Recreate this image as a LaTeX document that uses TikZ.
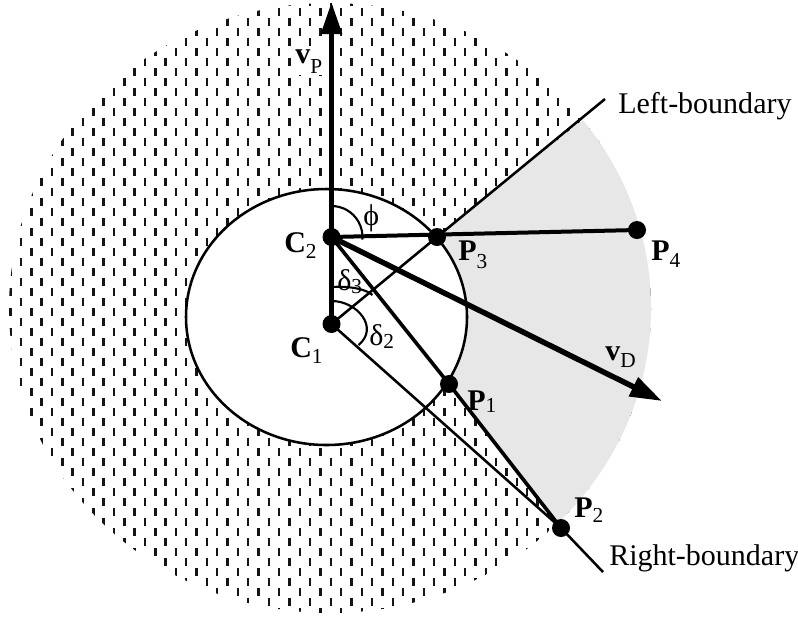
\documentclass[tikz,border=0pt]{standalone}
\usepackage{fontspec}
\setmainfont{Liberation Serif}
\usetikzlibrary{arrows.meta,calc}
\definecolor{sectorgray}{RGB}{231,231,231}
\definecolor{dashink}{RGB}{20,20,20}
\newcommand\vlab[3]{\textbf{#1}\raisebox{-#3}{\fontsize{16}{16}\selectfont #2}}
\newcommand\glab[3]{#1\raisebox{-#3}{\fontsize{16}{16}\selectfont #2}}
\begin{document}
\begin{tikzpicture}[x=0.75pt,y=-0.75pt,
  lbl/.style={inner sep=0pt, anchor=base west, font=\fontsize{22.5}{26}\selectfont},
  dashln/.style={draw=dashink, line width=1.8pt},
  thickln/.style={line width=4.1pt},
  midln/.style={line width=3pt},
  medln/.style={line width=2.7pt},
  thinln/.style={line width=1.9pt},
  arcln/.style={line width=1.6pt},
  dot/.style={circle, fill=black, inner sep=0pt, minimum size=13.5pt},
  bigtip/.style={-{Triangle[length=24pt,width=15pt]}}]
\useasboundingbox (0,0) rectangle (798,619);
% key points (pixel coordinates)
\coordinate (C1) at (331.5,324);
\coordinate (C2) at (331.5,237);
\coordinate (P1) at (449,384);
\coordinate (P2) at (561,528);
\coordinate (P3) at (437,237);
\coordinate (P4) at (637,230);
\coordinate (LB) at (605,99);
\coordinate (RB) at (603,572);
\coordinate (VP) at (331.5,2);
\coordinate (VD) at (662,401);
% patterned disc and grey sector
\begin{scope}
  \clip (330,308) ellipse [x radius=321, y radius=305];
  \foreach \i in {0,...,64}{
    \pgfmathsetmacro\xx{10.33*\i+0.35}
    \pgfmathsetmacro\yo{mod(\i,2)*10+1.7}
    \draw[dashln] \foreach \j in {0,...,31}{ (\xx,\yo+20*\j-4) -- ++(0,8) };
  }
  \fill[sectorgray] (P3) -- (758,-21) -- (900,-21) -- (900,819) -- (789,819) -- (P1) -- cycle;
\end{scope}
% inner ellipse
\fill[white] (326.5,317) ellipse [x radius=140.5, y radius=128];
\draw[thinln] (326.5,317) ellipse [x radius=140.5, y radius=128];
% boundary lines
\draw[thinln] (C1) -- (P3) -- (LB);
\draw[thinln] (C1) -- (P2) -- (RB);
% angle arcs
\draw[arcln] ($(C2)+(0,-31)$) arc [start angle=-90, end angle=5, radius=31];
\draw[arcln] ($(C1)+(0,-37)$) .. controls ($(C1)+(15,-38)$) and ($(C1)+(33,-36)$) .. ($(C1)+(41,-29)$);
\draw[arcln] ($(C1)+(0,-23)$) .. controls ($(C1)+(26,-23)$) and ($(C1)+(48,4)$) .. ($(C1)+(27,21)$);
% vectors and rays
\draw[medln] (C2) -- (P1) -- (P2);
\draw[midln] (C2) -- (P4);
\draw[thickln] (C1) -- (C2);
\draw[thickln, bigtip] (C2) -- (VP);
\draw[thickln, bigtip] (C2) -- (VD);
% dots
\foreach \p in {C1,C2,P1,P2,P3,P4}{ \node[dot] (d\p) at (\p) {}; }
% labels
\node[lbl, fill=white, inner sep=1.5pt] (lvP) at (293,63) {\vlab{v}{P}{7.5pt}};
\node[lbl] (lvD) at (605,360) {\vlab{v}{D}{5.3pt}};
\node[lbl] (lC2) at (284,252) {\vlab{C}{2}{4.5pt}};
\node[lbl] (lC1) at (290,357) {\vlab{C}{1}{4.5pt}};
\node[lbl] (lP1) at (467,410) {\vlab{P}{1}{1.5pt}};
\node[lbl] (lP2) at (574,517) {\vlab{P}{2}{3.8pt}};
\node[lbl] (lP3) at (458,260) {\vlab{P}{3}{6pt}};
\node[lbl] (lP4) at (651,260) {\vlab{P}{4}{5.3pt}};
\node[lbl] (lphi) at (363,225) {ϕ};
\node[lbl] (ld3) at (337,290) {\glab{δ}{3}{2.5pt}};
\node[lbl] (ld2) at (369,345) {\glab{δ}{2}{2.5pt}};
\node[lbl] (lL) at (618,113) {Left-boundary};
\node[lbl] (lR) at (609,565) {Right-boundary};
\end{tikzpicture}
\end{document}
